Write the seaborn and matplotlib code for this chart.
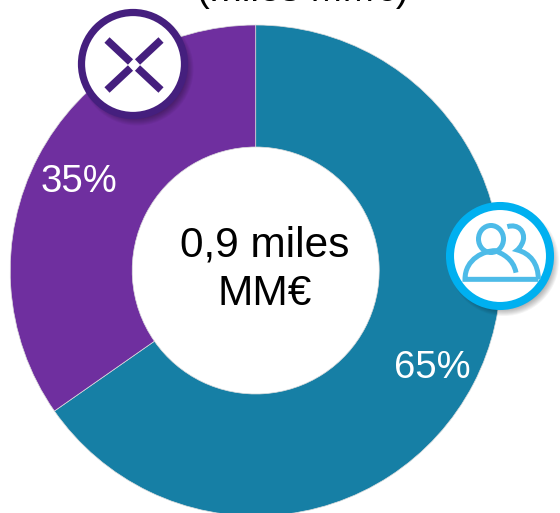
import matplotlib
matplotlib.use("Agg")
import matplotlib.pyplot as plt
import seaborn as sns
import numpy as np
from matplotlib.patches import Circle, Ellipse, PathPatch
from matplotlib.path import Path

labels = ["65%", "35%"]
shares = [65.3, 34.7]
colors = ["#167FA5", "#6F2F9F"]
center_text = "0,9 miles\nMM€"
title_text = "(miles MM€)"

sns.set_theme(style="white")
plt.rcParams["font.family"] = ["Liberation Sans", "DejaVu Sans"]

H = 513
def yy(p):
    # pixel row to data y
    return H - p

def zp(zx, zy):
    return (430 + zx / 3, yy(190 + zy / 3))

fig, ax = plt.subplots(figsize=(5.6, 5.13), dpi=100)
ax.set_position([0, 0, 1, 1])

wedges, _ = ax.pie(shares, colors=sns.color_palette(colors), startangle=90, counterclock=False,
                   center=(255.7, yy(270.5)), radius=245.5, frame=True,
                   wedgeprops={"width": 122, "edgecolor": "#dddddd", "linewidth": 0.5})
ax.set_xlim(0, 560)
ax.set_ylim(0, H)
ax.set_aspect("equal")
ax.axis("off")

ax.text(432, yy(368), labels[0], color="white", fontsize=27.5, ha="center", va="center")
ax.text(79, yy(182), labels[1], color="white", fontsize=27.5, ha="center", va="center")
ax.text(264.5, yy(270), center_text, color="black", fontsize=30.5, ha="center", va="center", linespacing=1.28)
ax.text(303, yy(-9), title_text, color="black", fontsize=27.7, ha="center", va="center", clip_on=False)

def badge(cx, cy, r, ring, lw):
    # soft drop shadow then the ring
    for i in range(8):
        ax.add_patch(Circle((cx + 4, yy(cy + 5)), r + 5 - i, fc="black", ec="none", alpha=0.045, zorder=5))
    ax.add_patch(Circle((cx, yy(cy)), r, fc="white", ec=ring, lw=lw, zorder=6))

badge(133, 64, 51.5, "#451F7E", 5.2)
for sx in (-1, 1):
    for sy in (-1, 1):
        ax.plot([134 + sx * 3.5, 134 + sx * 27], [yy(65 + sy * 3), yy(65 + sy * 25)],
                color="#451F7E", lw=5.4, solid_capstyle="butt", zorder=7)

badge(500, 256, 50, "#00B0F0", 5.8)
icon = "#4DBBE8"
lw = 3.6
# front person
ax.add_patch(Ellipse(zp(183, 147), 25, 27, fc="none", ec=icon, lw=lw, zorder=7))
front = Path([zp(258, 248), zp(250, 205), zp(215, 190), zp(195, 182),
              zp(165, 182), zp(105, 205), zp(105, 268), zp(325, 268)],
             [Path.MOVETO, Path.CURVE4, Path.CURVE4, Path.CURVE4,
              Path.CURVE4, Path.CURVE4, Path.CURVE4, Path.LINETO])
ax.add_patch(PathPatch(front, fc="none", ec=icon, lw=lw, zorder=7, capstyle="butt"))
# back person
back = Path([zp(232, 110), zp(265, 100), zp(285, 125), zp(280, 150),
             zp(275, 170), zp(262, 180), zp(262, 180),
             zp(300, 190), zp(325, 220), zp(325, 268)],
            [Path.MOVETO, Path.CURVE4, Path.CURVE4, Path.CURVE4,
             Path.CURVE4, Path.CURVE4, Path.CURVE4,
             Path.CURVE4, Path.CURVE4, Path.CURVE4])
ax.add_patch(PathPatch(back, fc="none", ec=icon, lw=lw, zorder=7))

fig.savefig("out.png", dpi=100)
